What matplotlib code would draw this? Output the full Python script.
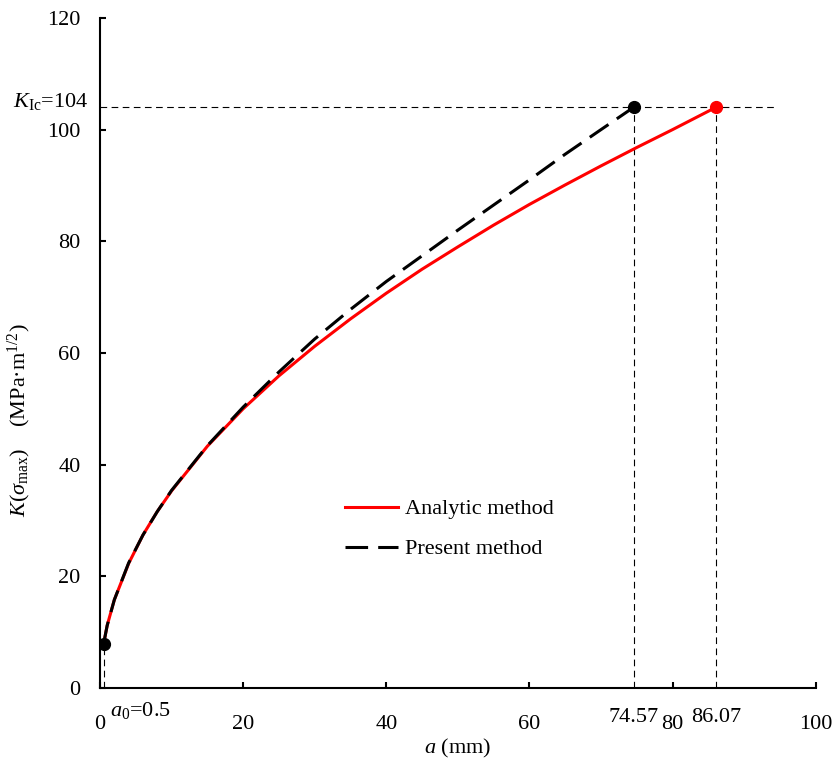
import numpy as np
import matplotlib
matplotlib.use('Agg')
import matplotlib.pyplot as plt

plt.rcParams['font.family'] = ['Liberation Serif', 'DejaVu Serif']
plt.rcParams['mathtext.fontset'] = 'custom'
plt.rcParams['mathtext.rm'] = 'Liberation Serif'
plt.rcParams['mathtext.it'] = 'Liberation Serif:italic'

# values
a_analytic = [0.5, 1, 2, 4, 6, 8, 10, 15, 20, 25, 30, 35, 40, 45, 50, 55, 60, 65, 70, 75, 80, 86.07]
k_analytic = [7.9, 11.2, 15.8, 22.3, 27.4, 31.6, 35.3, 43.3, 50.0, 55.9, 61.2, 66.1, 70.7, 75.0,
              79.0, 82.9, 86.6, 90.1, 93.5, 96.8, 100.0, 104.0]

a_present = [0.5, 1, 2, 4, 6, 8, 10, 15, 20, 25, 30, 35, 40, 45, 50, 55, 60, 65, 70, 74.57]
k_present = [7.9, 11.2, 15.8, 22.4, 27.4, 31.6, 35.4, 43.4, 50.3, 56.6, 62.5, 67.8, 72.8, 77.4,
             82.0, 86.5, 91.0, 95.6, 100.0, 104.0]

a0, k0 = 0.5, 7.9
k_ic = 104
a_crit_present = 74.57
a_crit_analytic = 86.07

x_ticks = [0, 20, 40, 60, 80, 100]
y_ticks = [0, 20, 40, 60, 80, 100, 120]

fig = plt.figure(figsize=(8.35, 7.65), dpi=100)
ax = fig.add_axes([0.1198, 0.1007, 0.857, 0.8758])

ax.plot(a_analytic, k_analytic, color='red', lw=2.2, label='Analytic method', zorder=3)
ax.plot(a_present, k_present, color='black', lw=2.2, dashes=(7.4, 3.3), label='Present method', zorder=4)

# reference lines
ref = dict(color='black', lw=0.8, dashes=(6, 4), zorder=2)
ax.plot([0, 94.5], [k_ic, k_ic], **ref)
ax.plot([a_crit_present, a_crit_present], [0, k_ic], **ref)
ax.plot([a_crit_analytic, a_crit_analytic], [0, k_ic], **ref)
ax.plot([a0, a0], [0, k0], **ref)

ax.plot([a_crit_present], [k_ic], 'o', color='black', ms=8.5, zorder=5)
ax.plot([a_crit_analytic], [k_ic], 'o', color='red', ms=8.5, zorder=5)
ax.plot([a0], [k0], 'o', color='black', ms=8.5, zorder=5)

ax.set_xlim(0, 100)
ax.set_ylim(0, 120)
ax.set_xticks(x_ticks)
ax.set_yticks(y_ticks)
ax.tick_params(direction='in', length=4.5, width=1.5, labelsize=16)
ax.tick_params(axis='x', pad=19.5)
ax.tick_params(axis='y', pad=14)
for s in ['top', 'right']:
    ax.spines[s].set_visible(False)
for s in ['left', 'bottom']:
    ax.spines[s].set_linewidth(1.5)

ax.text(-1.6, 105, r'$K_{\rm Ic}$=104', ha='right', va='center', fontsize=16, clip_on=False)
ax.text(a_crit_present, -5.3, '74.57', ha='center', va='center', fontsize=16, clip_on=False)
ax.text(a_crit_analytic, -5.3, '86.07', ha='center', va='center', fontsize=16, clip_on=False)
ax.text(1.4, -4.0, r'$a_0$=0.5', ha='left', va='center', fontsize=16, clip_on=False)

ax.set_xlabel(r'$a$ (mm)', fontsize=16, labelpad=2)
ax.set_ylabel(r'$K(\sigma_{\rm max})$' + '\u2003(MPa\u00b7m$^{1/2}$)', fontsize=16)
ax.yaxis.set_label_coords(-0.093, 0.40)

ax.legend(loc='upper left', bbox_to_anchor=(0.314, 0.312), frameon=False, fontsize=16,
          handlelength=2.4, handletextpad=0.3, labelspacing=0.87)

fig.savefig('out.png', dpi=100)
